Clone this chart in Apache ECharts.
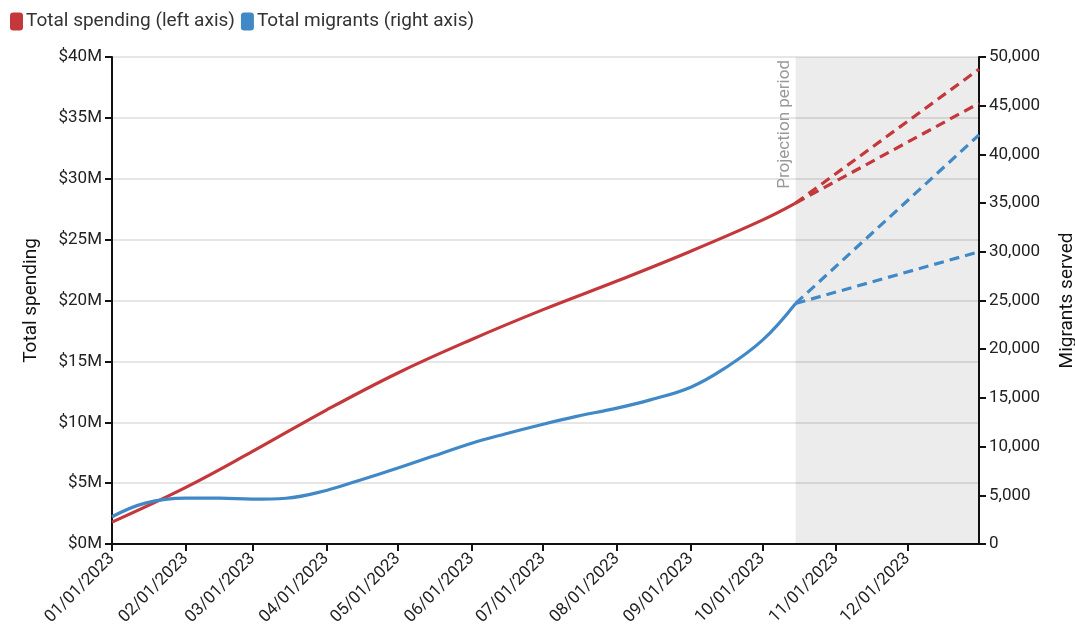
<!DOCTYPE html>
<html>
<head>
<meta charset="utf-8">
<script src="https://cdn.jsdelivr.net/npm/echarts@6/dist/echarts.min.js"></script>
<style>
html,body{margin:0;padding:0;background:#fff;}
#chart{width:1075px;height:635px;}
</style>
</head>
<body>
<div id="chart"></div>
<script>
// ---- data ----
const spendingDates = ['2023-01-01','2023-02-01','2023-03-01','2023-04-01','2023-05-01','2023-06-01','2023-07-01','2023-08-01','2023-09-01','2023-10-01','2023-10-15'];
const spendingValues = [1.8e6,4.65e6,7.6e6,11.0e6,14.05e6,16.8e6,19.25e6,21.6e6,24.05e6,26.6e6,28.0e6];

const migrantDates = ['2023-01-01','2023-01-15','2023-02-01','2023-02-15','2023-03-01','2023-03-15','2023-04-01','2023-04-15','2023-05-01','2023-05-15','2023-06-01','2023-06-15','2023-07-01','2023-07-15','2023-08-01','2023-08-15','2023-09-01','2023-09-15','2023-10-01','2023-10-15'];
const migrantValues = [2800,4200,4700,4700,4600,4700,5500,6550,7800,8950,10350,11300,12300,13100,13950,14800,16100,18000,20900,24700];

const projDates = ['2023-10-15','2023-12-31'];
const spendingProjHigh = [28.0e6,39.0e6];
const spendingProjLow = [28.0e6,36.2e6];
const migrantProjHigh = [24700,42000];
const migrantProjLow = [24700,30000];

const projectionStart = '2023-10-15';
const projectionEnd = '2023-12-31';

const leftTicks = {min:0,max:40e6,interval:5e6};
const rightTicks = {min:0,max:50000,interval:5000};

const RED = '#c4383b';
const BLUE = '#4189c6';
const SPEND = 'Total spending (left axis)';
const MIGR = 'Total migrants (right axis)';

function zip(d,v){return d.map((x,i)=>[x,v[i]]);}
function pad(n){return (n<10?'0':'')+n;}

const chart = echarts.init(document.getElementById('chart'));
const axisFont = {fontFamily:'Roboto',fontSize:17,color:'#222'};
chart.setOption({
  animation:false,
  textStyle:{fontFamily:'Roboto'},
  legend:{
    left:5,top:7,icon:'roundRect',itemWidth:13,itemHeight:18,itemGap:6,
    textStyle:{fontFamily:'Roboto',fontSize:19,color:'#333',padding:[0,0,0,-2]},
    data:[SPEND,MIGR]
  },
  grid:{left:112,right:96,top:57,bottom:91,outerBoundsMode:'none',containLabel:false},
  xAxis:{
    type:'time',min:'2023-01-01',max:'2023-12-31',splitNumber:12,
    axisLine:{lineStyle:{color:'#111',width:2}},
    axisTick:{show:true,length:7,lineStyle:{color:'#111',width:2}},
    splitLine:{show:false},
    axisLabel:Object.assign({rotate:45,margin:12,hideOverlap:false,showMaxLabel:false,
      formatter:function(v){const d=new Date(v);return pad(d.getMonth()+1)+'/'+pad(d.getDate())+'/'+d.getFullYear();}},axisFont)
  },
  yAxis:[{
    type:'value',min:leftTicks.min,max:leftTicks.max,interval:leftTicks.interval,
    name:'Total spending',nameLocation:'middle',nameGap:71,
    nameTextStyle:{fontFamily:'Roboto',fontSize:19,color:'#111'},
    axisLine:{show:true,lineStyle:{color:'#111',width:2}},
    axisTick:{show:true,length:7,lineStyle:{color:'#111',width:2}},
    splitLine:{show:true,lineStyle:{color:'#e6e6e6',width:2}},
    axisLabel:Object.assign({margin:10,formatter:function(v){return '$'+(v/1e6)+'M';}},axisFont)
  },{
    type:'value',position:'right',min:rightTicks.min,max:rightTicks.max,interval:rightTicks.interval,
    name:'Migrants served',nameLocation:'middle',nameGap:79,
    nameTextStyle:{fontFamily:'Roboto',fontSize:19,color:'#111'},
    axisLine:{show:true,lineStyle:{color:'#111',width:2}},
    axisTick:{show:true,length:7,lineStyle:{color:'#111',width:2}},
    splitLine:{show:false},
    axisLabel:Object.assign({margin:10,formatter:function(v){return v.toLocaleString('en-US');}},axisFont)
  }],
  series:[
    {name:SPEND,type:'line',yAxisIndex:0,data:zip(spendingDates,spendingValues),smooth:0.4,showSymbol:false,
     color:RED,lineStyle:{width:3.2,color:RED},z:3,
     markArea:{silent:true,itemStyle:{color:'rgba(0,0,0,0.075)'},data:[[{xAxis:projectionStart},{xAxis:projectionEnd}]]},
     markLine:{silent:true,symbol:'none',lineStyle:{color:'rgba(0,0,0,0)',width:1,type:'solid'},
       label:{show:true,formatter:'Projection period',position:'insideEndTop',color:'#999',fontFamily:'Roboto',fontSize:17,distance:[3,2]},
       data:[{xAxis:projectionStart}]}
    },
    {name:SPEND,type:'line',yAxisIndex:0,data:zip(projDates,spendingProjHigh),showSymbol:false,color:RED,
     lineStyle:{width:3.2,color:RED,type:[10,6]},z:3},
    {name:SPEND,type:'line',yAxisIndex:0,data:zip(projDates,spendingProjLow),showSymbol:false,color:RED,
     lineStyle:{width:3.2,color:RED,type:[10,6]},z:3},
    {name:MIGR,type:'line',yAxisIndex:1,data:zip(migrantDates,migrantValues),smooth:0.4,showSymbol:false,
     color:BLUE,lineStyle:{width:3.2,color:BLUE},z:4},
    {name:MIGR,type:'line',yAxisIndex:1,data:zip(projDates,migrantProjHigh),showSymbol:false,color:BLUE,
     lineStyle:{width:3.2,color:BLUE,type:[10,6]},z:4},
    {name:MIGR,type:'line',yAxisIndex:1,data:zip(projDates,migrantProjLow),showSymbol:false,color:BLUE,
     lineStyle:{width:3.2,color:BLUE,type:[10,6]},z:4}
  ]
});
</script>
</body>
</html>
